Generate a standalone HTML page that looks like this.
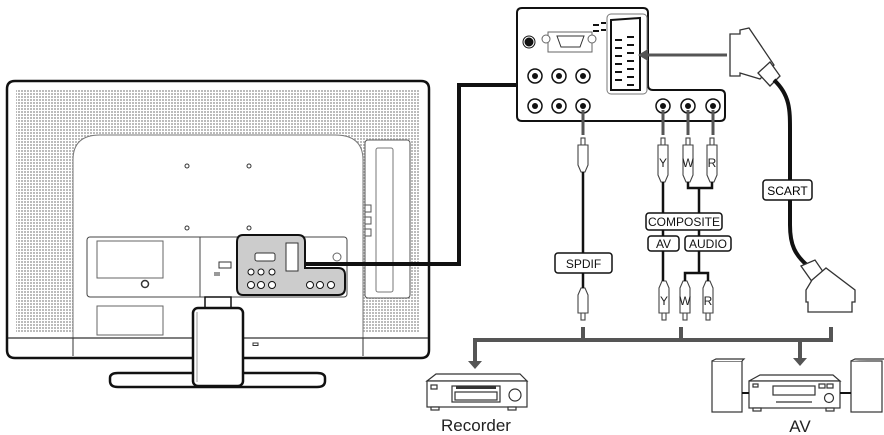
<!DOCTYPE html>
<html><head><meta charset="utf-8"><style>
html,body{margin:0;padding:0;background:#fff;}
svg{display:block;}
text{font-family:"Liberation Sans",sans-serif;}
</style></head><body>
<svg width="884" height="435" viewBox="0 0 884 435" xmlns="http://www.w3.org/2000/svg">
<defs>
<pattern id="dots" width="3" height="3" patternUnits="userSpaceOnUse">
<rect width="3" height="3" fill="#fff"/><rect width="2" height="2" fill="#bbb"/>
</pattern>
</defs>
<path d="M15 81 H421 Q429 81 429 89 V350 Q429 358 421 358 H15 Q7 358 7 350 V89 Q7 81 15 81Z" fill="#fff" stroke="#111" stroke-width="2.5"/>
<rect x="16" y="90" width="404" height="243" fill="url(#dots)"/>
<path d="M73 355 V160 Q73 135 100 135 H335 Q363 135 363 160 V355" fill="#fff" stroke="#777" stroke-width="1"/>
<line x1="8" y1="338" x2="428" y2="338" stroke="#333" stroke-width="1.2"/>
<line x1="73" y1="338" x2="73" y2="356" stroke="#333"/>
<line x1="363" y1="338" x2="363" y2="356" stroke="#333"/>
<rect x="365" y="140" width="45" height="158" rx="3" fill="#fff" stroke="#555"/>
<rect x="376" y="148" width="17" height="144" rx="2" fill="#fff" stroke="#777"/>
<rect x="365" y="205" width="6" height="7" fill="#fff" stroke="#555"/>
<rect x="365" y="217" width="6" height="7" fill="#fff" stroke="#555"/>
<rect x="365" y="229" width="6" height="7" fill="#fff" stroke="#555"/>
<g fill="#fff" stroke="#333"><circle cx="187" cy="166" r="2"/><circle cx="249" cy="166" r="2"/><circle cx="187" cy="228" r="2"/><circle cx="249" cy="228" r="2"/></g>
<rect x="87" y="237" width="260" height="60" rx="3" fill="#fff" stroke="#444"/>
<line x1="200" y1="237" x2="200" y2="297" stroke="#444"/>
<rect x="97" y="241" width="66" height="37" fill="#fff" stroke="#666"/>
<circle cx="145" cy="284" r="3.5" fill="#fff" stroke="#333" stroke-width="1.5"/>
<rect x="97" y="306" width="66" height="29" fill="#fff" stroke="#666"/>
<rect x="219" y="262" width="12" height="6" fill="#fff" stroke="#333"/>
<rect x="214" y="272" width="6" height="4" fill="#999"/>
<circle cx="337" cy="257" r="4" fill="#fff" stroke="#666"/>
<path d="M243 235 H298 Q305 235 305 242 V268 H338 Q345 268 345 275 V288 Q345 295 338 295 H243 Q237 295 237 288 V242 Q237 235 243 235Z" fill="#ccc" stroke="#111" stroke-width="2"/>
<rect x="255" y="253" width="20" height="8" rx="2" fill="#fff" stroke="#333"/>
<rect x="286" y="243" width="12" height="28" fill="#fff" stroke="#333"/>
<g fill="#fff" stroke="#111"><circle cx="251" cy="272" r="3"/><circle cx="261" cy="272" r="3"/><circle cx="272" cy="272" r="3"/><circle cx="251" cy="285" r="3.5"/><circle cx="261" cy="285" r="3.5"/><circle cx="272" cy="285" r="3.5"/><circle cx="310" cy="285" r="3.5"/><circle cx="320" cy="285" r="3.5"/><circle cx="331" cy="285" r="3.5"/></g>
<rect x="205" y="297" width="26" height="13" fill="#fff" stroke="#111" stroke-width="1.5"/>
<path d="M118 373 H317 Q325 373 325 378 V381 Q325 387 317 387 H118 Q110 387 110 381 V378 Q110 373 118 373Z" fill="#fff" stroke="#111" stroke-width="2.5"/>
<rect x="193" y="308" width="50" height="78" rx="5" fill="#fff" stroke="#111" stroke-width="2.5"/>
<line x1="197" y1="312" x2="197" y2="382" stroke="#999"/>
<rect x="253" y="343" width="5" height="2.5" fill="#fff" stroke="#333"/>
<polyline points="305,264 459,264 459,85 517,85" fill="none" stroke="#111" stroke-width="4"/>
<path d="M522 8 H643 Q648 8 648 13 V85 Q648 90 653 90 H720 Q725 90 725 95 V116 Q725 121 720 121 H522 Q517 121 517 116 V13 Q517 8 522 8Z" fill="#fff" stroke="#111" stroke-width="2"/>
<circle cx="529" cy="42" r="4" fill="#111" stroke="#111"/><circle cx="529" cy="42" r="6" fill="none" stroke="#111"/>
<rect x="548" y="32" width="44" height="20" fill="#fff" stroke="#666"/>
<path d="M557 36 H584 L580 47 H561Z" fill="#fff" stroke="#333"/>
<circle cx="546" cy="39" r="4" fill="#fff" stroke="#666"/><circle cx="592" cy="39" r="4" fill="#fff" stroke="#666"/>
<rect x="607" y="14" width="40" height="80" rx="4" fill="#fff" stroke="#777"/>
<path d="M611 20 L640 18 V90 H611Z" fill="#fff" stroke="#111" stroke-width="2"/>
<g stroke="#111" stroke-width="2"><line x1="615" y1="40" x2="622" y2="40"/><line x1="627" y1="37" x2="634" y2="37"/><line x1="615" y1="48" x2="622" y2="48"/><line x1="627" y1="45" x2="634" y2="45"/><line x1="615" y1="56" x2="622" y2="56"/><line x1="627" y1="53" x2="634" y2="53"/><line x1="615" y1="64" x2="622" y2="64"/><line x1="627" y1="61" x2="634" y2="61"/><line x1="615" y1="72" x2="622" y2="72"/><line x1="627" y1="69" x2="634" y2="69"/><line x1="615" y1="80" x2="622" y2="80"/><line x1="627" y1="77" x2="634" y2="77"/><line x1="627" y1="85" x2="634" y2="85"/><line x1="593" y1="25" x2="599" y2="25"/><line x1="593" y1="31" x2="599" y2="31"/><line x1="601" y1="23" x2="606" y2="23"/><line x1="601" y1="30" x2="606" y2="30"/></g>
<g fill="#fff" stroke="#111" stroke-width="1.5">
<circle cx="535" cy="76" r="7"/><circle cx="559" cy="76" r="7"/><circle cx="583" cy="76" r="7"/>
<circle cx="535" cy="106" r="7"/><circle cx="559" cy="106" r="7"/><circle cx="583" cy="106" r="7"/>
<circle cx="663" cy="106" r="7"/><circle cx="688" cy="106" r="7"/><circle cx="713" cy="106" r="7"/></g>
<g fill="#111"><circle cx="535" cy="76" r="3"/><circle cx="559" cy="76" r="3"/><circle cx="583" cy="76" r="3"/><circle cx="535" cy="106" r="3"/><circle cx="559" cy="106" r="3"/><circle cx="583" cy="106" r="3"/><circle cx="663" cy="106" r="3"/><circle cx="688" cy="106" r="3"/><circle cx="713" cy="106" r="3"/></g>
<g stroke="#555" stroke-width="3"><line x1="727" y1="55" x2="645" y2="55"/><line x1="583" y1="110" x2="583" y2="135"/><line x1="663" y1="110" x2="663" y2="135"/><line x1="688" y1="110" x2="688" y2="135"/><line x1="713" y1="110" x2="713" y2="135"/></g>
<polygon points="638,55 648,49 648,61" fill="#555"/>
<path d="M730 34 H740 V30 L749 28 L774 65 L760 79 L740 73 V76 H730Z" fill="#fff" stroke="#333" stroke-width="1.3"/>
<path d="M758 73 L770 62 L780 76 L770 86Z" fill="#fff" stroke="#333" stroke-width="1.3"/>
<path d="M774 80 C790 95 790 110 790 130 V225 C790 245 795 255 808 266" fill="none" stroke="#111" stroke-width="4"/>
<rect x="763" y="180" width="49" height="20" rx="3" fill="#fff" stroke="#111" stroke-width="1.5"/>
<text x="787.5" y="195" font-size="12" text-anchor="middle">SCART</text>
<path d="M801 266 L815 260 L826 276 L813 283Z" fill="#fff" stroke="#333" stroke-width="1.3"/>
<path d="M812 280 L826 268 L855 290 V302 H852 V312 H808 V302 H806 V290Z" fill="#fff" stroke="#333" stroke-width="1.3"/>
<g fill="#fff" stroke="#444" stroke-width="1.1">
<rect x="581" y="138" width="4" height="7"/><path d="M578 145 H588 V165 L585 172 H581 L578 165Z"/>
<rect x="661" y="138" width="4" height="7"/><path d="M658 145 H668 V175 L665 182 H661 L658 175Z"/>
<rect x="686" y="138" width="4" height="7"/><path d="M683 145 H693 V175 L690 182 H686 L683 175Z"/>
<rect x="710" y="138" width="4" height="7"/><path d="M707 145 H717 V175 L714 182 H710 L707 175Z"/>
<rect x="581" y="313" width="4" height="7"/><path d="M578 313 H588 V295 L585 288 H581 L578 295Z"/>
<rect x="662" y="313" width="4" height="7"/><path d="M659 313 H669 V288 L666 281 H662 L659 288Z"/>
<rect x="683" y="313" width="4" height="7"/><path d="M680 313 H690 V288 L687 281 H683 L680 288Z"/>
<rect x="706" y="313" width="4" height="7"/><path d="M703 313 H713 V288 L710 281 H706 L703 288Z"/>
</g>
<g font-size="12" text-anchor="middle" fill="#222">
<text x="663" y="167">Y</text><text x="688" y="167">W</text><text x="712" y="167">R</text>
<text x="664" y="305">Y</text><text x="685" y="305">W</text><text x="708" y="305">R</text></g>
<g stroke="#111" stroke-width="2.5" fill="none">
<line x1="583" y1="172" x2="583" y2="288"/>
<line x1="663" y1="182" x2="663" y2="281"/>
<polyline points="688,182 688,188 712,188 712,182"/>
<line x1="699" y1="188" x2="699" y2="273"/>
<polyline points="685,281 685,273 708,273 708,281"/>
</g>
<g fill="#fff" stroke="#111" stroke-width="1.5">
<rect x="555" y="253" width="57" height="20" rx="3"/>
<rect x="646" y="213" width="76" height="17" rx="3"/>
<rect x="648" y="236" width="31" height="15" rx="3"/>
<rect x="685" y="236" width="46" height="15" rx="3"/>
</g>
<g font-size="12" text-anchor="middle" fill="#111">
<text x="583.5" y="268">SPDIF</text><text x="684" y="226">COMPOSITE</text><text x="663.5" y="248">AV</text><text x="708" y="248">AUDIO</text></g>
<g stroke="#555" stroke-width="4" fill="none">
<polyline points="475,365 475,340 833,340"/>
<line x1="583" y1="327" x2="583" y2="340"/><line x1="681" y1="327" x2="681" y2="340"/><line x1="831" y1="327" x2="831" y2="340"/>
<line x1="800" y1="340" x2="800" y2="360"/>
</g>
<polygon points="468,361 482,361 475,369" fill="#555"/>
<polygon points="793,358 807,358 800,366" fill="#555"/>
<g fill="#fff" stroke="#333" stroke-width="1.2">
<path d="M427 381 L436 374 H520 L527 381Z"/>
<rect x="427" y="381" width="100" height="26"/>
<rect x="431" y="407" width="8" height="3"/><rect x="508" y="407" width="8" height="3"/>
<rect x="431" y="385" width="6" height="4"/>
<rect x="452" y="386" width="48" height="16"/>
<rect x="455" y="392" width="42" height="8"/>
<circle cx="515" cy="395" r="6"/>
</g>
<rect x="456" y="386" width="40" height="3" fill="#333"/>
<g fill="#fff" stroke="#333" stroke-width="1.2">
<rect x="712" y="361" width="30" height="51"/><path d="M712 361 L716 359 H744 L742 361"/>
<rect x="851" y="361" width="31" height="51"/><path d="M851 361 L855 359 H884"/>
<path d="M749 381 L760 375 H833 L840 381Z"/>
<rect x="749" y="381" width="91" height="27"/>
<rect x="753" y="408" width="8" height="3"/><rect x="826" y="408" width="8" height="3"/>
<rect x="773" y="386" width="42" height="9"/>
<rect x="819" y="384" width="6" height="4"/><rect x="827" y="384" width="6" height="4"/>
<circle cx="829" cy="398" r="4.5"/>
<rect x="753" y="384" width="5" height="3"/>
<line x1="776" y1="402" x2="812" y2="402"/>
</g>
<line x1="742" y1="393" x2="749" y2="393" stroke="#111" stroke-width="2"/>
<line x1="840" y1="393" x2="851" y2="393" stroke="#111" stroke-width="2"/>
<text x="476" y="431" font-size="17" text-anchor="middle" fill="#222">Recorder</text>
<text x="800" y="432" font-size="17" text-anchor="middle" fill="#222">AV</text>
</svg>
</body></html>
